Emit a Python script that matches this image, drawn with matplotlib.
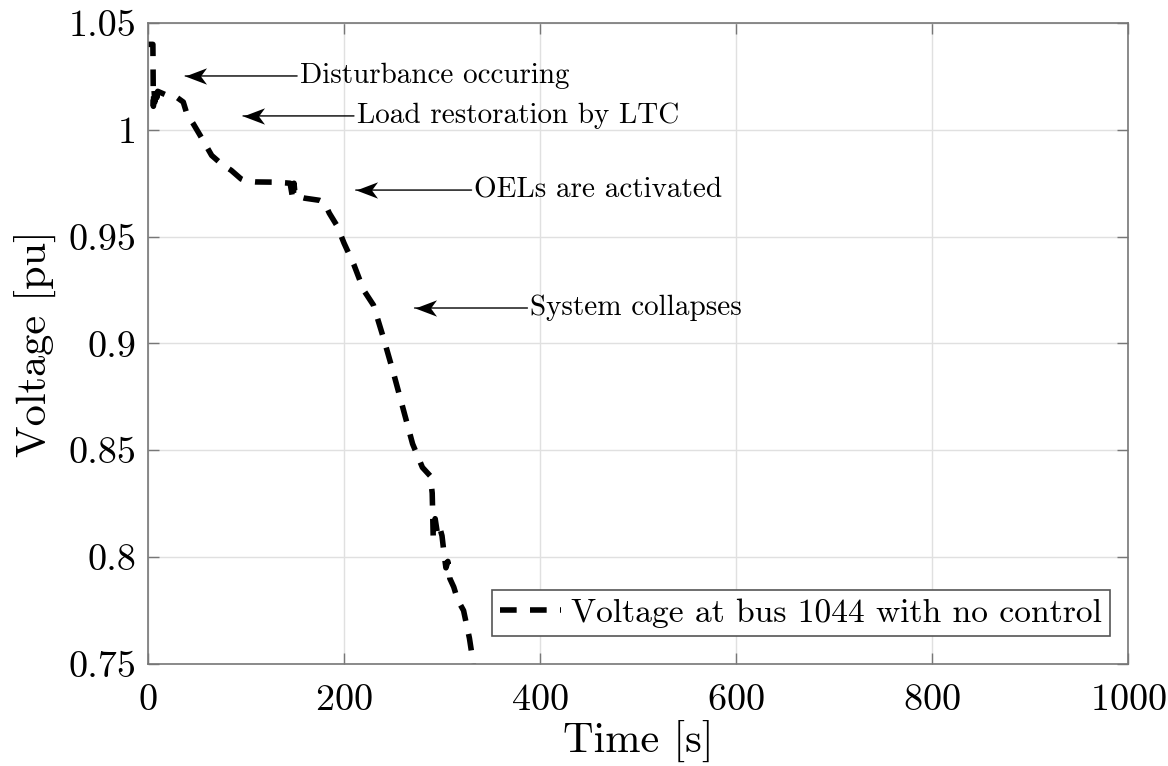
import numpy as np
import matplotlib.pyplot as plt
from matplotlib.path import Path
from matplotlib.ticker import FormatStrFormatter

plt.rcParams.update({
    "font.family": "cmr10",
    "mathtext.fontset": "cm",
    "axes.formatter.use_mathtext": True,
    "font.size": 27.5,
})

# bus 1044 voltage, no control applied
time_s = [0, 5, 5.5, 6, 7, 8, 9, 10, 15, 20, 30, 36, 40, 46, 55, 65, 75, 85, 95,
          100, 110, 130, 145, 148, 149, 150, 152, 160, 175, 180, 185, 193, 200,
          210, 220, 230, 240, 250, 260, 270, 280, 288, 290, 291, 293, 295, 297,
          300, 302, 304, 306, 308, 312, 316, 322, 328, 332]
voltage_pu = [1.040, 1.040, 1.011, 1.020, 1.013, 1.019, 1.015, 1.018, 1.017, 1.016,
              1.015, 1.013, 1.007, 1.003, 0.996, 0.988, 0.984, 0.981, 0.977,
              0.976, 0.9756, 0.9755, 0.975, 0.967, 0.975, 0.970, 0.969, 0.968,
              0.967, 0.966, 0.961, 0.955, 0.947, 0.937, 0.925, 0.918, 0.903,
              0.887, 0.870, 0.853, 0.842, 0.838, 0.830, 0.810, 0.818, 0.812,
              0.815, 0.810, 0.802, 0.795, 0.798, 0.790, 0.786, 0.780, 0.775,
              0.762, 0.750]

# (text, text position, arrow tip)
notes = [
    ("Disturbance occuring", (155, 1.0252), (38, 1.0252)),
    ("Load restoration by LTC", (213, 1.0065), (97, 1.0065)),
    ("OELs are activated", (333, 0.9718), (212, 0.9718)),
    ("System collapses", (390, 0.9166), (272, 0.9166)),
]

# notched arrow head pointing left, tip at the origin
head = Path([(0, 0), (1, 0.38), (0.72, 0), (1, -0.38), (0, 0)],
            [Path.MOVETO, Path.LINETO, Path.LINETO, Path.LINETO, Path.CLOSEPOLY])

fig = plt.figure(figsize=(11.68, 7.66), dpi=100)
ax = fig.add_axes([0.1267, 0.1332, 0.8391, 0.8368])

ax.plot(time_s, voltage_pu, color='black', linestyle='--', linewidth=4.0,
        dashes=(3.0, 2.4), label='Voltage at bus 1044 with no control')

for txt, xy_text, xy_tip in notes:
    ax.annotate(txt, xy=xy_tip, xytext=xy_text, fontsize=21,
                va='center', ha='left',
                arrowprops=dict(arrowstyle='-', color='black', lw=1.0,
                                shrinkA=0, shrinkB=0))
    ax.plot(*xy_tip, marker=head, markersize=31, color='black',
            markeredgewidth=0)

ax.set_xlim(0, 1000)
ax.set_ylim(0.75, 1.05)
ax.set_xticks(np.arange(0, 1001, 200))
ax.set_yticks(np.arange(0.75, 1.051, 0.05))
ax.yaxis.set_major_formatter(FormatStrFormatter('%g'))
ax.set_xlabel('Time [s]', fontsize=30.5, labelpad=2)
ax.set_ylabel('Voltage [pu]', fontsize=30.5, labelpad=9)
ax.grid(True, color='#e0e0e0', linewidth=1.0)
ax.tick_params(direction='in', length=8, width=1, color='#777777',
               top=True, right=True, pad=8)
ax.tick_params(axis='x', pad=14)
for sp in ax.spines.values():
    sp.set_color('#777777')
    sp.set_linewidth(1.2)

leg = ax.legend(loc='lower right', bbox_to_anchor=(0.9816, 0.0437),
                fontsize=24.2, fancybox=False, framealpha=1,
                edgecolor='#555555', handlelength=1.8, borderpad=0.25,
                handletextpad=0.3, borderaxespad=0)
leg.get_frame().set_linewidth(1.2)

fig.savefig('out.png', dpi=100)
